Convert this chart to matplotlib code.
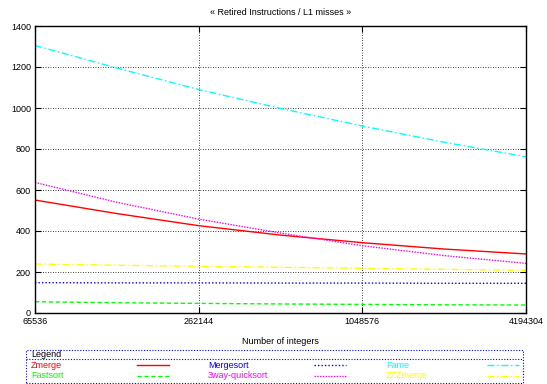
import numpy as np
import matplotlib
matplotlib.use("Agg")
import matplotlib.pyplot as plt
from matplotlib.lines import Line2D
from matplotlib.patches import Rectangle

plt.rcParams['font.family'] = ['Liberation Sans', 'DejaVu Sans']

# Data
sizes = [65536, 131072, 262144, 524288, 1048576, 2097152, 4194304]
zmerge = [551, 485, 426, 380, 343, 312, 288]
fastsort = [55, 50, 47, 44, 42, 40, 39]
mergesort = [148, 147, 147, 146, 146, 145, 145]
quick3 = [637, 540, 458, 390, 328, 280, 242]
fame = [1305, 1195, 1090, 998, 912, 833, 762]
zzzmerge = [239, 233, 228, 223, 218, 213, 208]

xticks = [65536, 262144, 1048576, 4194304]
yticks = [0, 200, 400, 600, 800, 1000, 1200, 1400]

series = [
    ("Zmerge", zmerge, "#ff0000", "-"),
    ("Fastsort", fastsort, "#00ff00", (0, (3, 2))),
    ("Mergesort", mergesort, "#0000ff", (0, (1, 1.5))),
    ("3way-quicksort", quick3, "#ff00ff", (0, (1, 1))),
    ("Fame", fame, "#00ffff", (0, (5, 2, 1, 2))),
    ("ZZZmerge", zzzmerge, "#ffff00", (0, (5, 2, 1, 2))),
]

W, H = 547, 384
fig = plt.figure(figsize=(5.47, 3.84), dpi=100)
ax = fig.add_axes([35 / W, 1 - 313 / H, 491 / W, 287 / H])

for name, vals, col, ls in series:
    ax.plot(sizes, vals, color=col, linestyle=ls, linewidth=1.0, label=name)

ax.set_xscale("log", base=2)
ax.set_xlim(65536, 4194304)
ax.set_ylim(0, 1400)
ax.set_xticks(xticks)
ax.set_xticklabels([str(t) for t in xticks])
ax.minorticks_off()
ax.set_yticks(yticks)
ax.grid(True, color="black", linestyle=(0, (1, 2)), linewidth=0.6)
ax.tick_params(direction="in", top=True, right=True, labelsize=6.5, length=4, pad=3)
for s in ax.spines.values():
    s.set_linewidth(1.0)

ax.set_title("« Retired Instructions / L1 misses »", fontsize=6.5, pad=8)
ax.set_xlabel("Number of integers", fontsize=6.5, labelpad=8)

# hand made gnuplot style legend below the plot
def fx(px):
    return px / W

def fy(py):
    return 1 - py / H

box = Rectangle((fx(25.5), fy(382.5)), fx(497.5), 32.5 / H, transform=fig.transFigure,
                fill=False, edgecolor="#0000ff", linestyle=(0, (1, 1.5)), linewidth=0.8)
fig.add_artist(box)
fig.add_artist(Line2D([fx(25.5), fx(523)], [fy(359), fy(359)], transform=fig.transFigure,
                      color="#0000ff", linestyle=(0, (1, 1.5)), linewidth=0.8))
fig.text(fx(31), fy(354.5), "Legend", fontsize=6.5, va="center", ha="left")

col_x = [31, 208, 386]
hand_x = [(137, 169), (314, 346), (487, 519)]
row_y = [365, 376]
for i, (name, vals, col, ls) in enumerate(series):
    c, r = i // 2, i % 2
    fig.text(fx(col_x[c]), fy(row_y[r]), name, color=col, fontsize=6.5, va="center", ha="left")
    fig.add_artist(Line2D([fx(hand_x[c][0]), fx(hand_x[c][1])], [fy(row_y[r]), fy(row_y[r])],
                          transform=fig.transFigure, color=col, linestyle=ls, linewidth=1.0))

fig.savefig("out.png", dpi=100)
